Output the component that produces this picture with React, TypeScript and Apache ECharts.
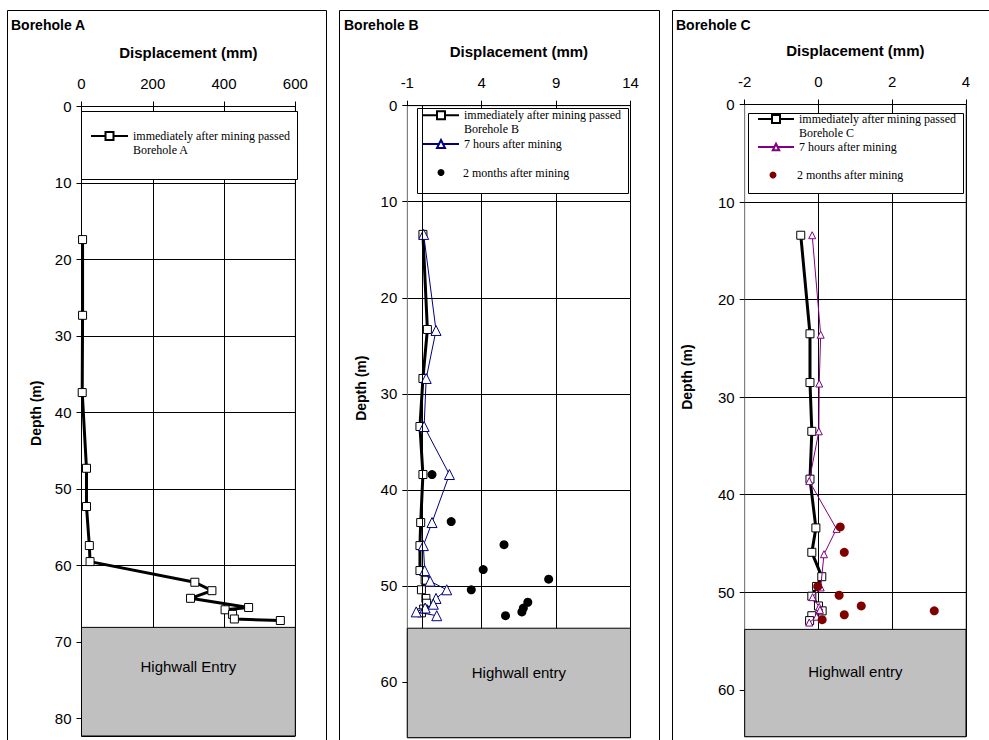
import React, { useEffect, useRef } from 'react';
import * as echarts from 'echarts';

// ---------- texts ----------
const panelTitles = ['Borehole A', 'Borehole B', 'Borehole C'];
const xAxisTitle = 'Displacement (mm)';
const yAxisTitle = 'Depth (m)';
const highwallLabels = ['Highwall Entry', 'Highwall entry', 'Highwall entry'];
const immediateNames = [
  'immediately after mining passed\nBorehole A',
  'immediately after mining passed\nBorehole B',
  'immediately after mining passed\nBorehole C',
];
const sevenHoursName = '7 hours after mining';
const twoMonthsName = '2 months after mining';

// ---------- axes ----------
const xMin = [0, -1, -2];
const xMax = [600, 14, 4];
const xInterval = [200, 5, 2];
const yMin = 0;
const yMax = [82.3, 65.8, 64.8];
const yInterval = 10;
const highwallTop = [68.1, 54.4, 53.8];

// ---------- Borehole A ----------
const depthA = [17.4, 27.3, 37.4, 47.3, 52.3, 57.4, 59.5, 62.2, 63.3, 64.3, 65.5, 65.8, 66.4, 67.0, 67.2];
const dispA = [3, 3, 2, 14, 14, 22, 24, 318, 366, 306, 469, 403, 424, 429, 558];

// ---------- Borehole B ----------
const depthB1 = [13.4, 23.3, 28.4, 33.4, 38.4, 43.4, 45.8, 48.4, 49.4, 50.4, 51.3, 51.8, 52.4, 52.8];
const dispB1 = [0.05, 0.35, 0.05, -0.15, 0.05, -0.1, -0.15, -0.15, 0.2, -0.05, 0.25, 0.3, 0.1, -0.05];
const depthB2 = [13.4, 23.4, 28.4, 33.4, 38.4, 43.4, 45.8, 48.4, 49.5, 50.4, 51.3, 51.9, 52.3, 52.7, 53.1];
const dispB2 = [0.1, 0.93, 0.27, 0.13, 1.83, 0.66, 0.08, 0.17, 0.53, 1.65, 0.93, 0.75, 0.2, -0.4, 0.98];
const depthB3 = [38.4, 43.3, 45.7, 48.3, 49.3, 50.4, 51.7, 52.3, 52.7, 53.1];
const dispB3 = [0.66, 1.95, 5.5, 4.1, 8.5, 3.3, 7.1, 6.8, 6.7, 5.6];

// ---------- Borehole C ----------
const depthC1 = [13.4, 23.5, 28.5, 33.5, 38.4, 43.4, 45.9, 48.4, 49.4, 50.4, 51.4, 51.9, 52.4, 52.9];
const dispC1 = [-0.48, -0.23, -0.23, -0.18, -0.23, -0.07, -0.18, 0.09, -0.05, -0.18, 0.0, 0.1, -0.18, -0.24];
const depthC2 = [13.4, 23.6, 28.6, 33.5, 38.6, 43.5, 46.1, 49.5, 50.5, 51.5, 51.8, 52.5, 53.1];
const dispC2 = [-0.17, 0.06, 0.02, 0.01, -0.25, 0.49, 0.15, 0.06, -0.16, 0.02, 0.04, -0.05, -0.25];
const depthC3 = [43.3, 45.9, 49.4, 50.3, 51.4, 51.9, 52.3, 52.8];
const dispC3 = [0.59, 0.7, -0.02, 0.56, 1.16, 3.14, 0.7, 0.1];

const zip = (xs: number[], ys: number[]) => xs.map((x, i) => [x, ys[i]]);

const FONT = 'Liberation Sans, Arial, sans-serif';
const SERIF = 'Liberation Serif, Times New Roman, serif';

// layout (pixels)
const grids = [
  { left: 81.5, top: 106.5, width: 213.8, height: 629.5 },
  { left: 407.3, top: 105.7, width: 223.2, height: 632 },
  { left: 744.7, top: 104.5, width: 221.3, height: 632.2 },
];
const yNameGap = [39, 39, 51];
const yNamePad = [16, 67, 87];
const yAxisLineColor = ['#000', '#808080', '#808080'];
const boxLabelDist = [32, 37, 35];
const titleLeft = [11, 344, 676];

function buildOption() {
  const xAxis = grids.map((_, i) => ({
    type: 'value',
    gridIndex: i,
    position: 'top',
    min: xMin[i],
    max: xMax[i],
    interval: xInterval[i],
    name: xAxisTitle,
    nameLocation: 'middle',
    nameGap: 47,
    nameTextStyle: { fontFamily: FONT, fontSize: 15, fontWeight: 'bold', color: '#000' },
    axisLine: { show: true, onZero: false, lineStyle: { color: '#000', width: 1 } },
    axisTick: { show: true, inside: false, length: 5, lineStyle: { color: '#000' } },
    axisLabel: { margin: 16, fontFamily: FONT, fontSize: 15, color: '#000' },
    splitLine: { show: true, lineStyle: { color: '#000', width: 1 } },
  }));
  const yAxis = grids.map((_, i) => ({
    type: 'value',
    gridIndex: i,
    inverse: true,
    min: yMin,
    max: yMax[i],
    interval: yInterval,
    name: yAxisTitle,
    nameLocation: 'middle',
    nameRotate: 90,
    nameGap: yNameGap[i],
    nameTextStyle: {
      fontFamily: FONT, fontSize: 14, fontWeight: 'bold', color: '#000',
      padding: [0, 0, 0, yNamePad[i]],
    },
    axisLine: { show: true, onZero: false, lineStyle: { color: yAxisLineColor[i], width: 1 } },
    axisTick: { show: true, inside: false, length: 5, lineStyle: { color: '#000' } },
    axisLabel: { margin: 10, fontFamily: FONT, fontSize: 15, color: '#000', showMaxLabel: false },
    splitLine: { show: true, lineStyle: { color: '#000', width: 1 } },
  }));

  const squareLine = (name: string, idx: number, data: number[][]) => ({
    name,
    type: 'line',
    xAxisIndex: idx,
    yAxisIndex: idx,
    data,
    symbol: 'rect',
    symbolSize: 8,
    z: 2,
    lineStyle: { color: '#000', width: 3 },
    itemStyle: { color: '#fff', borderColor: '#000', borderWidth: 1 },
  });
  const triLine = (idx: number, data: number[][], color: string, size: number, extra: any = {}) => ({
    name: sevenHoursName,
    type: 'line',
    xAxisIndex: idx,
    yAxisIndex: idx,
    data,
    symbol: 'triangle',
    symbolSize: size,
    z: 3,
    lineStyle: { color, width: 1 },
    itemStyle: { color: '#fff', borderColor: color, borderWidth: 1 },
    ...extra,
  });
  const dots = (idx: number, data: number[][], color: string) => ({
    name: twoMonthsName,
    type: 'scatter',
    xAxisIndex: idx,
    yAxisIndex: idx,
    data,
    symbol: 'circle',
    symbolSize: 9,
    z: 4,
    itemStyle: { color, opacity: 1 },
  });
  const box = (idx: number) => ({
    type: 'line',
    xAxisIndex: idx,
    yAxisIndex: idx,
    data: [],
    z: 6,
    silent: true,
    markArea: {
      silent: true,
      itemStyle: { color: '#C0C0C0', borderColor: '#000', borderWidth: 1, opacity: 1 },
      label: {
        show: true,
        position: 'insideTop',
        distance: boxLabelDist[idx],
        fontFamily: FONT,
        fontSize: 15,
        color: '#000',
      },
      data: [[
        { name: highwallLabels[idx], xAxis: xMin[idx], yAxis: highwallTop[idx] },
        { xAxis: xMax[idx], yAxis: yMax[idx] },
      ]],
    },
  });

  const series = [
    squareLine(immediateNames[0], 0, zip(dispA, depthA)),
    squareLine(immediateNames[1], 1, zip(dispB1, depthB1)),
    triLine(1, zip(dispB2, depthB2), '#000080', 10, {
      markLine: {
        silent: true,
        symbol: ['none', 'none'],
        label: { show: false },
        lineStyle: { color: '#000', width: 1, type: 'solid' },
        data: [[{ xAxis: 0, yAxis: yMin }, { xAxis: 0, yAxis: highwallTop[1] }]],
      },
    }),
    dots(1, zip(dispB3, depthB3), '#000'),
    squareLine(immediateNames[2], 2, zip(dispC1, depthC1)),
    triLine(2, zip(dispC2, depthC2), '#800080', 7),
    dots(2, zip(dispC3, depthC3), '#800000'),
    box(0),
    box(1),
    box(2),
  ];

  const legendText = { fontFamily: SERIF, fontSize: 12, lineHeight: 13.5, color: '#000' };
  const lg = (data: any[], left: number, top: number, itemWidth: number, itemHeight: number, multi = false) => ({
    data,
    left,
    top,
    orient: 'vertical',
    padding: 0,
    itemWidth,
    itemHeight,
    itemGap: 0,
    selectedMode: false,
    textStyle: legendText,
    formatter: multi ? (n: string) => '\n' + n : (n: string) => n,
  });
  const legend = [
    lg([immediateNames[0]], 90, 115.75, 37, 10, true),
    lg([immediateNames[1]], 422, 95, 36, 10, true),
    lg([{ name: sevenHoursName, itemStyle: { color: '#fff', borderColor: '#000080' }, lineStyle: { color: '#000080' } }], 422, 137.25, 36, 10),
    lg([{ name: twoMonthsName, itemStyle: { color: '#000', opacity: 1 } }], 437.5, 165.75, 34, 7),
    lg([immediateNames[2]], 757, 98.75, 36, 10, true),
    lg([{ name: sevenHoursName, itemStyle: { color: '#fff', borderColor: '#800080' }, lineStyle: { color: '#800080' } }], 757, 140.25, 36, 8),
    lg([{ name: twoMonthsName, itemStyle: { color: '#800000', opacity: 1 } }], 769.5, 168.25, 38, 7),
  ];

  const frame = (x: number, y: number, w: number, h: number, z: number, fill: string) => ({
    type: 'rect',
    z,
    silent: true,
    shape: { x, y, width: w, height: h },
    style: { fill, stroke: '#000', lineWidth: 1 },
  });

  return {
    animation: false,
    backgroundColor: '#fff',
    textStyle: { fontFamily: FONT },
    title: panelTitles.map((t, i) => ({
      text: t,
      left: titleLeft[i],
      top: 18,
      padding: 0,
      textStyle: { fontFamily: FONT, fontSize: 14, fontWeight: 'bold', color: '#000' },
    })),
    grid: grids.map((g) => ({
      ...g,
      show: true,
      borderColor: '#808080',
      borderWidth: 1,
      backgroundColor: '#fff',
    })),
    xAxis,
    yAxis,
    legend,
    series,
    graphic: [
      frame(7.5, 10.5, 319, 800, 10, 'none'),
      frame(339.5, 10.5, 320, 800, 10, 'none'),
      frame(672.5, 10.5, 330, 800, 10, 'none'),
      frame(81.5, 111.5, 216, 68, 3, '#fff'),
      frame(417.5, 108.5, 211, 85, 3, '#fff'),
      frame(748.5, 113.5, 215, 80, 3, '#fff'),
    ],
  };
}

export default function App() {
  const ref = useRef<HTMLDivElement>(null);
  useEffect(() => {
    if (!ref.current) return;
    const chart = echarts.init(ref.current, undefined, { renderer: 'svg' });
    chart.setOption(buildOption() as any);
    return () => chart.dispose();
  }, []);
  return (
    <div
      ref={ref}
      style={{ position: 'fixed', left: 0, top: 0, width: 989, height: 740, background: '#fff' }}
    />
  );
}
